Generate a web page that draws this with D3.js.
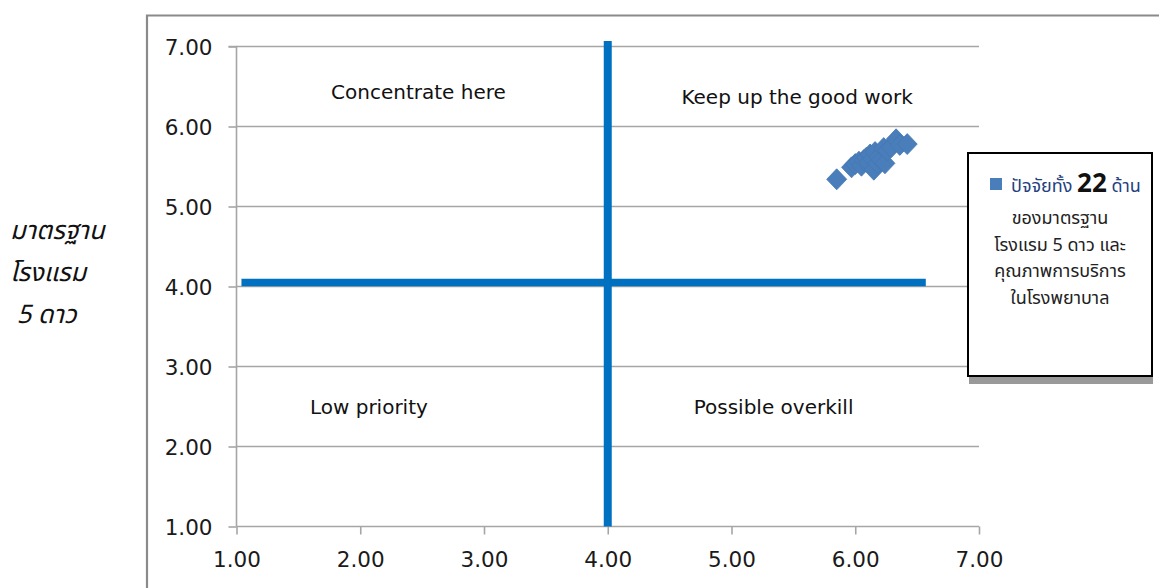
<!DOCTYPE html>
<html>
<head>
<meta charset="utf-8">
<script src="https://cdn.jsdelivr.net/npm/d3@7"></script>
<style>
  html, body { margin: 0; padding: 0; background: #fff; }
  svg { display: block; }
  .tick-label { font-family: "DejaVu Sans", "Noto Sans", sans-serif; font-size: 21.5px; fill: #1a1a1a; }
  .quad { font-family: "DejaVu Sans", "Noto Sans", sans-serif; font-size: 20px; fill: #111; }
  .thai { font-family: "Noto Sans Thai", "Noto Sans Thai UI", "Noto Sans", "DejaVu Sans", sans-serif; }
</style>
</head>
<body>
<svg id="chart" width="1159" height="588"></svg>
<script>
// Tick values on both axes
const xTicks = [1, 2, 3, 4, 5, 6, 7];
const yTicks = [1, 2, 3, 4, 5, 6, 7];

// 22 factors: mean service score (x) vs 5-star hotel standard score (y)
const factorX = [5.85, 5.97, 6.00, 6.03, 6.05, 6.07, 6.09, 6.11, 6.12, 6.14, 6.15,
                 6.16, 6.18, 6.19, 6.21, 6.23, 6.24, 6.26, 6.29, 6.33, 6.36, 6.42];
const factorY = [5.34, 5.49, 5.53, 5.56, 5.51, 5.58, 5.61, 5.55, 5.65, 5.60, 5.46,
                 5.68, 5.54, 5.62, 5.58, 5.73, 5.54, 5.70, 5.74, 5.84, 5.77, 5.78];

// Quadrant divider lines (x from..to at y level, and y from..to at x level)
const hDividerX = [1.04, 6.57];
const hDividerY = 4.05;
const vDividerX = 4.0;
const vDividerY = [1.0, 7.07];

// Quadrant captions
const quadText = ["Concentrate here", "Keep up the good work", "Low priority", "Possible overkill"];
const quadX = [2.47, 5.53, 2.07, 5.34];
const quadY = [6.43, 6.37, 2.5, 2.5];

// Axis title and legend text
const yTitle = ["มาตรฐาน", "โรงแรม", " 5 ดาว"];
const legendHead = ["ปัจจัยทั้ง ", "22", " ด้าน"];
const legendLines = ["ของมาตรฐาน", "โรงแรม 5 ดาว และ", "คุณภาพการบริการ", "ในโรงพยาบาล"];

const svg = d3.select("#chart");

const x = d3.scaleLinear().domain([1, 7]).range([236.5, 979]);
const y = d3.scaleLinear().domain([1, 7]).range([526.5, 46.5]);

// outer chart frame (top and left edges)
svg.append("path")
  .attr("d", "M147,588 L147,15.5 L1159,15.5")
  .attr("fill", "none").attr("stroke", "#8a8a8a").attr("stroke-width", 2.2);

// horizontal gridlines
svg.append("g").selectAll("line").data(yTicks.filter(d => d > 1)).join("line")
  .attr("x1", x(1)).attr("x2", x(7))
  .attr("y1", d => y(d)).attr("y2", d => y(d))
  .attr("stroke", "#a6a6a6").attr("stroke-width", 1.6);

// y axis
const yAxis = d3.axisLeft(y).tickValues(yTicks).tickFormat(d3.format(".2f")).tickSize(8).tickPadding(16);
const gy = svg.append("g").attr("transform", `translate(${x(1)},0)`).call(yAxis);
gy.select(".domain").attr("stroke", "#a6a6a6").attr("stroke-width", 1.6).attr("d", `M-8,${y(7)}H0V${y(1)}`);
gy.selectAll(".tick line").attr("stroke", "#a6a6a6").attr("stroke-width", 1.6);
gy.selectAll(".tick text").attr("class", "tick-label").attr("dy", "0.36em");

// x axis
const xAxis = d3.axisBottom(x).tickValues(xTicks).tickFormat(d3.format(".2f")).tickSize(8).tickPadding(17);
const gx = svg.append("g").attr("transform", `translate(0,${y(1)})`).call(xAxis);
gx.select(".domain").attr("stroke", "#a6a6a6").attr("stroke-width", 1.6).attr("d", `M${x(1)},0H${x(7)}`);
gx.selectAll(".tick line").attr("stroke", "#a6a6a6").attr("stroke-width", 1.6);
gx.selectAll(".tick text").attr("class", "tick-label");

// quadrant dividers
svg.append("line")
  .attr("x1", x(hDividerX[0])).attr("x2", x(hDividerX[1]))
  .attr("y1", y(hDividerY)).attr("y2", y(hDividerY))
  .attr("stroke", "#0070C0").attr("stroke-width", 7.5);
svg.append("line")
  .attr("x1", x(vDividerX)).attr("x2", x(vDividerX))
  .attr("y1", y(vDividerY[0])).attr("y2", y(vDividerY[1]))
  .attr("stroke", "#0070C0").attr("stroke-width", 8);

// quadrant captions
svg.append("g").selectAll("text").data(quadText).join("text")
  .attr("class", "quad")
  .attr("x", (d, i) => x(quadX[i]))
  .attr("y", (d, i) => y(quadY[i]))
  .attr("text-anchor", "middle")
  .attr("dy", "0.35em")
  .text(d => d);

// factor markers (diamonds)
const diamond = "M0,-10.5L10,0L0,10.5L-10,0Z";
svg.append("g").selectAll("path").data(factorX).join("path")
  .attr("d", diamond)
  .attr("transform", (d, i) => `translate(${x(d)},${y(factorY[i])})`)
  .attr("fill", "#4A7EBB").attr("stroke", "#4477b3").attr("stroke-width", 0.8);

// y axis title
svg.append("g").selectAll("text").data(yTitle).join("text")
  .attr("class", "thai")
  .attr("x", 10)
  .attr("y", (d, i) => 239 + i * 42)
  .attr("font-size", 25.5).attr("font-style", "italic").attr("fill", "#111")
  .attr("xml:space", "preserve")
  .style("white-space", "pre")
  .text(d => d);

// legend box with shadow
const lg = svg.append("g");
lg.append("rect").attr("x", 969).attr("y", 158).attr("width", 184).attr("height", 226).attr("fill", "#999");
lg.append("rect").attr("x", 968).attr("y", 153).attr("width", 184).attr("height", 223)
  .attr("fill", "#fff").attr("stroke", "#000").attr("stroke-width", 2);
lg.append("rect").attr("x", 990).attr("y", 178).attr("width", 12).attr("height", 12).attr("fill", "#4A7EBB");
const head = lg.append("text").attr("class", "thai").attr("x", 1011).attr("y", 192)
  .attr("xml:space", "preserve").style("white-space", "pre");
head.selectAll("tspan").data(legendHead).join("tspan")
  .attr("font-size", (d, i) => i === 1 ? 26 : 18)
  .attr("font-weight", (d, i) => i === 1 ? "bold" : "normal")
  .attr("fill", (d, i) => i === 1 ? "#111" : "#24407f")
  .text(d => d);
lg.append("g").selectAll("text").data(legendLines).join("text")
  .attr("class", "thai")
  .attr("x", 1060)
  .attr("y", (d, i) => 224 + i * 26.5)
  .attr("text-anchor", "middle")
  .attr("font-size", 18).attr("fill", "#222")
  .text(d => d);
</script>
</body>
</html>
